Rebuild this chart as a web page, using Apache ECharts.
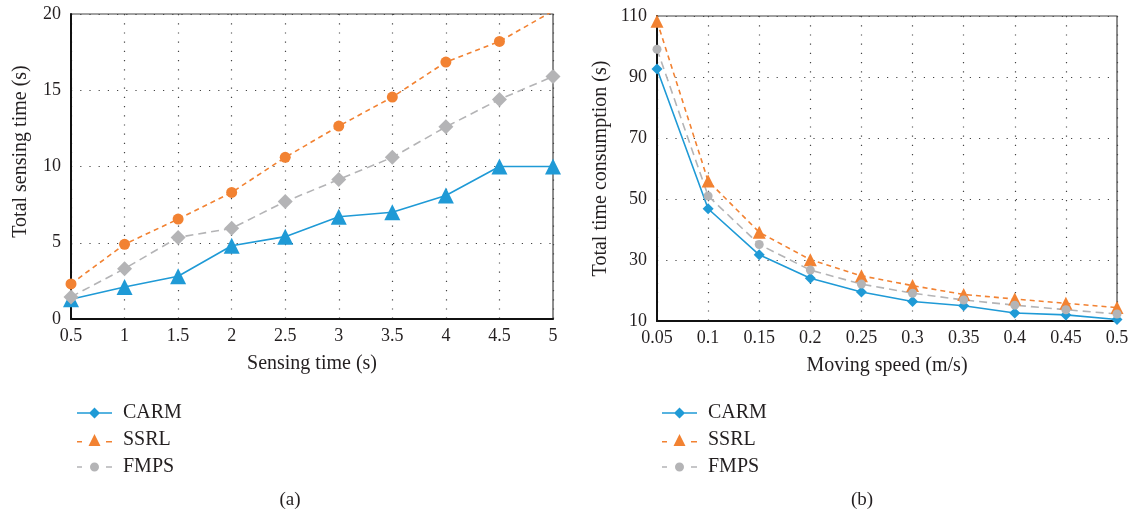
<!DOCTYPE html>
<html>
<head>
<meta charset="utf-8">
<script src="https://cdn.jsdelivr.net/npm/echarts@6/dist/echarts.min.js"></script>
<style>
html,body{margin:0;padding:0;background:#fff;}
#main{width:1133px;height:513px;}
</style>
</head>
<body>
<div id="main"></div>
<script>
// ---- Data ----
var sensingCats = ['0.5','1','1.5','2','2.5','3','3.5','4','4.5','5'];
var speedCats = ['0.05','0.1','0.15','0.2','0.25','0.3','0.35','0.4','0.45','0.5'];

var aCARM = [1.3, 2.1, 2.8, 4.8, 5.4, 6.7, 7.0, 8.1, 10.0, 10.0];
var aSSRL = [2.3, 4.9, 6.55, 8.3, 10.6, 12.65, 14.55, 16.85, 18.2, 20.2];
var aFMPS = [1.45, 3.3, 5.35, 5.95, 7.7, 9.15, 10.6, 12.6, 14.4, 15.9];

var bCARM = [92.6, 46.8, 31.7, 24.0, 19.5, 16.4, 15.0, 12.6, 12.0, 10.5];
var bSSRL = [108.3, 55.9, 39.1, 30.1, 24.8, 21.6, 18.7, 17.2, 15.8, 14.4];
var bFMPS = [99.1, 51.0, 35.1, 26.7, 22.1, 19.1, 16.9, 15.2, 13.7, 12.3];

var legendNames = ['CARM', 'SSRL', 'FMPS'];
var yTicksA = {min: 0, max: 20, interval: 5};
var yTicksB = {min: 10, max: 110, interval: 20};

// ---- Styles ----
var BLUE = '#1f9ad6';
var ORANGE = '#f28232';
var GRAY = '#b4b4b6';
var FONT = '"Liberation Serif", "DejaVu Serif", serif';
var TXT = '#231f20';

var iconCARM = 'path://M0 5.25 L35 5.25 L35 6.75 L0 6.75 Z M17.5 0.5 L23 6 L17.5 11.5 L12 6 Z';
var iconSSRL = 'path://M0 7 L5 7 L5 8.5 L0 8.5 Z M29 7 L35 7 L35 8.5 L29 8.5 Z M17.5 0 L23.5 12 L11.5 12 Z';
var iconFMPS = 'path://M0 5.25 L5 5.25 L5 6.75 L0 6.75 Z M29 5.25 L35 5.25 L35 6.75 L29 6.75 Z M13 6 A4.5 4.5 0 1 1 22 6 A4.5 4.5 0 1 1 13 6 Z';

function legendData() {
  return [
    {name: legendNames[0], icon: iconCARM, itemStyle: {color: BLUE}},
    {name: legendNames[1], icon: iconSSRL, itemStyle: {color: ORANGE}},
    {name: legendNames[2], icon: iconFMPS, itemStyle: {color: GRAY}}
  ];
}

function xAxis(idx, cats, name) {
  return {
    type: 'category', gridIndex: idx, data: cats, boundaryGap: false,
    name: name, nameLocation: 'middle', nameGap: 35,
    nameTextStyle: {fontFamily: FONT, fontSize: 20, color: TXT},
    axisLine: {show: true, lineStyle: {color: '#111', width: 2}},
    axisTick: {show: false},
    axisLabel: {interval: 0, fontFamily: FONT, fontSize: 18, color: TXT, margin: 8},
    splitLine: {show: true, interval: 0, lineStyle: {color: '#444', width: 1.2, type: [1.2, 8]}}
  };
}
function yAxis(idx, ticks, name, gap, pad) {
  return {
    type: 'value', gridIndex: idx, min: ticks.min, max: ticks.max, interval: ticks.interval,
    name: name, nameLocation: 'middle', nameGap: gap,
    nameTextStyle: {fontFamily: FONT, fontSize: 20, color: TXT, padding: pad},
    axisLine: {show: true, lineStyle: {color: '#111', width: 2}},
    axisTick: {show: false},
    axisLabel: {fontFamily: FONT, fontSize: 18, color: TXT, margin: 10},
    splitLine: {show: true, lineStyle: {color: '#444', width: 1.2, type: [1.2, 8]}}
  };
}
function lineSeries(name, data, xi, color, symbol, size, dash) {
  return {
    type: 'line', name: name, data: data, xAxisIndex: xi, yAxisIndex: xi,
    symbol: symbol, symbolSize: size, showSymbol: true, clip: true,
    itemStyle: {color: color},
    lineStyle: {color: color, width: 1.6, type: dash},
    emphasis: {disabled: true},
    animation: false
  };
}

var chart = echarts.init(document.getElementById('main'), null, {renderer: 'canvas'});
chart.setOption({
  backgroundColor: '#fff',
  animation: false,
  title: [
    {text: '(a)', left: 285, top: 486, textAlign: 'center',
     textStyle: {fontFamily: FONT, fontSize: 19, fontWeight: 'normal', color: TXT}},
    {text: '(b)', left: 857, top: 486, textAlign: 'center',
     textStyle: {fontFamily: FONT, fontSize: 19, fontWeight: 'normal', color: TXT}}
  ],
  legend: [
    {data: legendData(), left: 72, top: 398, orient: 'vertical', itemWidth: 35, itemHeight: 12,
     itemGap: 7, selectedMode: false, textStyle: {fontFamily: FONT, fontSize: 20, color: TXT, padding: [0,0,0,6]}},
    {data: legendData(), left: 657, top: 398, orient: 'vertical', itemWidth: 35, itemHeight: 12,
     itemGap: 7, selectedMode: false, textStyle: {fontFamily: FONT, fontSize: 20, color: TXT, padding: [0,0,0,6]}}
  ],
  grid: [
    {left: 71, top: 14, width: 482, height: 305, show: true, borderColor: '#444', borderWidth: 1.2, backgroundColor: 'transparent'},
    {left: 657, top: 16, width: 460, height: 305, show: true, borderColor: '#444', borderWidth: 1.2, backgroundColor: 'transparent'}
  ],
  xAxis: [xAxis(0, sensingCats, 'Sensing time (s)'), xAxis(1, speedCats, 'Moving speed (m/s)')],
  yAxis: [yAxis(0, yTicksA, 'Total sensing time (s)', 40, [0, 0, 0, 30]), yAxis(1, yTicksB, 'Total time consumption (s)', 46, [0, 0, 0, 0])],
  series: [
    lineSeries('CARM', aCARM, 0, BLUE, 'triangle', 16, 'solid'),
    lineSeries('FMPS', aFMPS, 0, GRAY, 'diamond', 15, [8, 5]),
    lineSeries('SSRL', aSSRL, 0, ORANGE, 'circle', 11, [5, 4]),
    lineSeries('SSRL', bSSRL, 1, ORANGE, 'triangle', 13, [5, 4]),
    lineSeries('CARM', bCARM, 1, BLUE, 'diamond', 11, 'solid'),
    lineSeries('FMPS', bFMPS, 1, GRAY, 'circle', 9, [8, 5])
  ]
});
</script>
</body>
</html>
